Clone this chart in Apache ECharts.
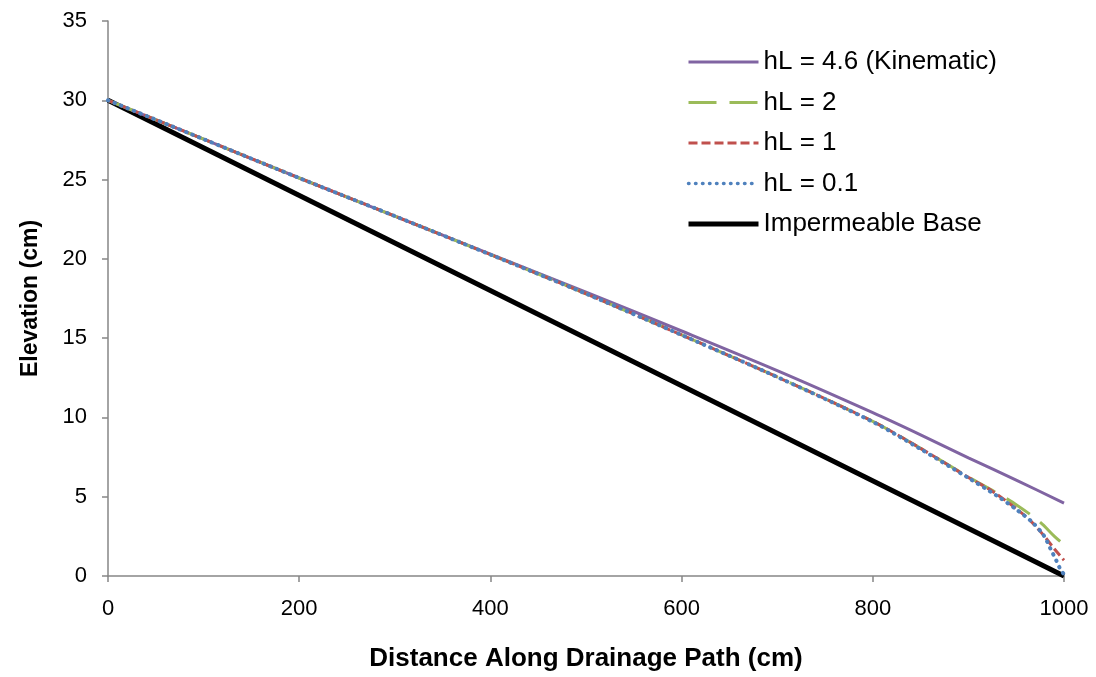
<!DOCTYPE html>
<html>
<head>
<meta charset="utf-8">
<script src="https://cdn.jsdelivr.net/npm/echarts@6/dist/echarts.min.js"></script>
<style>
  html, body { margin: 0; padding: 0; background: #fff; }
  #chart { width: 1096px; height: 677px; }
</style>
</head>
<body>
<div id="chart"></div>
<script>
// 数据
var xKin = [0, 100, 200, 300, 400, 500, 600, 700, 800, 850, 900, 950, 1000]
var yKin = [30, 27.55, 25.1, 22.7, 20.3, 17.9, 15.45, 12.95, 10.3, 8.9, 7.45, 6.05, 4.6]

var xH2 = [0, 100, 200, 300, 400, 500, 600, 700, 800, 850, 900, 925, 950, 975, 990, 1000]
var yH2 = [30, 27.55, 25.1, 22.7, 20.27, 17.8, 15.2, 12.55, 9.75, 8.05, 6.25, 5.4, 4.5, 3.4, 2.5, 1.97]

var xH1 = [0, 100, 200, 300, 400, 500, 600, 700, 800, 850, 900, 925, 950, 965, 979, 990, 1000]
var yH1 = [30, 27.55, 25.1, 22.7, 20.27, 17.8, 15.2, 12.55, 9.75, 8.05, 6.22, 5.35, 4.25, 3.48, 2.54, 1.7, 1.0]

var xH01 = [0, 100, 200, 300, 400, 500, 600, 700, 800, 850, 900, 930, 950, 967, 979, 986, 992, 996, 1000]
var yH01 = [30, 27.55, 25.1, 22.7, 20.27, 17.8, 15.2, 12.55, 9.72, 8.0, 6.18, 5.05, 4.2, 3.38, 2.54, 1.7, 0.97, 0.45, 0.1]

var xBase = [0, 1000]
var yBase = [30, 0]

var seriesNames = ['hL = 4.6 (Kinematic)', 'hL = 2', 'hL = 1', 'hL = 0.1', 'Impermeable Base']
var legendWidths = [3, 3, 3, 3.5, 5]

function pairs (xs, ys) {
  return xs.map(function (x, i) { return [x, ys[i]] })
}

var chart = echarts.init(document.getElementById('chart'))
var font = 'Liberation Sans, Arial, sans-serif'
var axisColor = '#868686'

chart.setOption({
  animation: false,
  textStyle: { fontFamily: font },
  grid: { left: 108, right: 32, top: 21, bottom: 100, containLabel: false },
  legend: {
    orient: 'vertical',
    left: 681,
    top: 44,
    itemWidth: 70,
    itemHeight: 26,
    itemGap: 14.5,
    itemStyle: { opacity: 0 },
    textStyle: { fontSize: 26, lineHeight: 26, color: '#000', fontFamily: font },
    data: seriesNames.map(function (n, i) {
      return { name: n, lineStyle: { width: legendWidths[i] } }
    })
  },
  // x轴
  xAxis: {
    type: 'value',
    min: 0,
    max: 1000,
    interval: 200,
    name: 'Distance Along Drainage Path (cm)',
    nameLocation: 'middle',
    nameGap: 70,
    nameTextStyle: { fontSize: 26, fontWeight: 'bold', color: '#000' },
    axisLine: { lineStyle: { color: axisColor, width: 1.5 } },
    axisTick: { show: true, length: 6, lineStyle: { color: axisColor, width: 1.5 } },
    axisLabel: { fontSize: 22, color: '#000', margin: 22, formatter: function (v) { return String(v) } },
    splitLine: { show: false }
  },
  // y轴
  yAxis: {
    type: 'value',
    min: 0,
    max: 35,
    interval: 5,
    name: 'Elevation (cm)',
    nameLocation: 'middle',
    nameGap: 66,
    nameRotate: 90,
    nameTextStyle: { fontSize: 23, fontWeight: 'bold', color: '#000' },
    axisLine: { show: true, lineStyle: { color: axisColor, width: 1.5 } },
    axisTick: { show: true, length: 6, lineStyle: { color: axisColor, width: 1.5 } },
    axisLabel: { fontSize: 22, color: '#000', margin: 21 },
    splitLine: { show: false }
  },
  series: [
    {
      name: seriesNames[0], type: 'line', symbol: 'none', smooth: 0.3,
      data: pairs(xKin, yKin), z: 3,
      lineStyle: { color: '#8064A2', width: 3 },
      itemStyle: { color: '#8064A2' }
    },
    {
      name: seriesNames[1], type: 'line', symbol: 'none', smooth: 0.3,
      data: pairs(xH2, yH2), z: 4,
      lineStyle: { color: '#9BBB59', width: 3, type: [28, 13] },
      itemStyle: { color: '#9BBB59' }
    },
    {
      name: seriesNames[2], type: 'line', symbol: 'none', smooth: 0.3,
      data: pairs(xH1, yH1), z: 5,
      lineStyle: { color: '#C0504D', width: 3, type: [9, 4] },
      itemStyle: { color: '#C0504D' }
    },
    {
      name: seriesNames[3], type: 'line', symbol: 'none', smooth: 0.3,
      data: pairs(xH01, yH01), z: 6,
      lineStyle: { color: '#4F81BD', width: 4, type: [0.5, 6.5], cap: 'round' },
      itemStyle: { color: '#4F81BD' }
    },
    {
      name: seriesNames[4], type: 'line', symbol: 'none',
      data: pairs(xBase, yBase), z: 2,
      lineStyle: { color: '#000', width: 5 },
      itemStyle: { color: '#000' }
    }
  ]
})
</script>
</body>
</html>
